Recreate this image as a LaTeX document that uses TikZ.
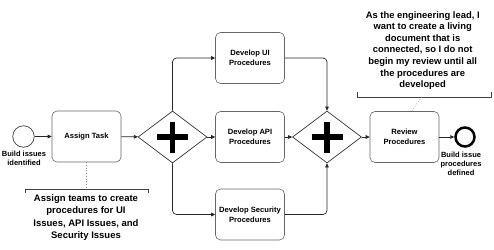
\documentclass[tikz,border=0pt]{standalone}
\usepackage{fontspec}
\setmainfont{Liberation Sans}
\usetikzlibrary{arrows.meta,shapes.geometric}
\begin{document}
\begin{tikzpicture}[x=1pt,y=-1pt,
  task/.style={draw=black!60, rounded corners=5pt, minimum width=69pt, minimum height=51pt, inner sep=1pt, align=center, font=\fontsize{7.6}{9.6}\selectfont\bfseries, line width=0.6pt},
  gate/.style={diamond, draw=black!80, minimum width=69pt, minimum height=52pt, inner sep=0pt, line width=0.7pt},
  flow/.style={-{Triangle[length=4pt,width=3.6pt]}, line width=0.7pt, draw=black!85, rounded corners=4pt},
  evlabel/.style={align=center, font=\fontsize{7.5}{9.3}\selectfont\bfseries, inner sep=0pt},
  anntext/.style={align=center, inner sep=0pt},
  bracket/.style={draw=black!75, line width=0.7pt},
  assoc/.style={draw=black!45, dotted, line width=0.7pt},
  plus/.style={line width=5.7pt, draw=black}
]
\useasboundingbox (0,0) rectangle (494,249);

% events
\node[circle, draw=black!75, line width=0.7pt, minimum size=21.5pt, inner sep=0pt] (start) at (23.5,136.5) {};
\node[evlabel] (startlbl) at (24,158.5) {Build issues\\identified};
\node[circle, draw=black, line width=2.5pt, minimum size=19pt, inner sep=0pt] (end) at (465,137) {};
\node[evlabel] (endlbl) at (461,164) {Build issue\\procedures\\defined};

% tasks
\node[task] (assign) at (86.5,136.5) {Assign Task};
\node[task] (ui) at (250,58) {Develop UI\\Procedures};
\node[task] (api) at (250,137) {Develop API\\Procedures};
\node[task] (sec) at (250,214.5) {Develop Security\\Procedures};
\node[task] (review) at (404.5,137) {Review\\Procedures};

% gateways
\node[gate] (g1) at (172.5,137) {};
\node[gate] (g2) at (327,137) {};
\foreach \g in {g1,g2}{
  \draw[plus] ([xshift=-15.5pt]\g.center) -- ([xshift=15.5pt]\g.center);
  \draw[plus] ([yshift=-15.5pt]\g.center) -- ([yshift=15.5pt]\g.center);
}

% flows
\draw[flow] (start) -- (assign);
\draw[flow] (assign) -- (g1);
\draw[flow] (g1) -- (api);
\draw[flow] (g1.north) |- (ui);
\draw[flow] (g1.south) |- (sec);
\draw[flow] (ui) -| (g2.north);
\draw[flow] (api) -- (g2);
\draw[flow] (sec) -| (g2.south);
\draw[flow] (g2) -- (review);
\draw[flow] (review) -- (end);

% annotation 1
\coordinate (a1l) at (25,193);
\coordinate (a1r) at (148,193);
\coordinate (a1m) at (86.5,189);
\draw[bracket] (a1l) -- ++(0,-4) -- ([yshift=4pt]a1r) -- (a1r);
\draw[assoc] (assign.south) -- (a1m);
\node[anntext, font=\fontsize{9.5}{12.3}\selectfont\bfseries] (ann1) at (86,217.5) {Assign teams to create\\procedures for UI\\Issues, API Issues, and\\Security Issues};

% annotation 2
\coordinate (a2l) at (357,92);
\coordinate (a2r) at (491,92);
\coordinate (a2m) at (421.7,97);
\draw[bracket] (a2l) -- ++(0,5) -- ([yshift=-5pt]a2r) -- (a2r);
\draw[assoc] (a2m) -- ([xshift=7pt]review.north);
\node[anntext, font=\fontsize{9.4}{11.6}\selectfont\bfseries] (ann2) at (422.7,50.5) {As the engineering lead, I\\want to create a living\\document that is\\connected, so I do not\\begin my review until all\\the procedures are\\developed};
\end{tikzpicture}
\end{document}
